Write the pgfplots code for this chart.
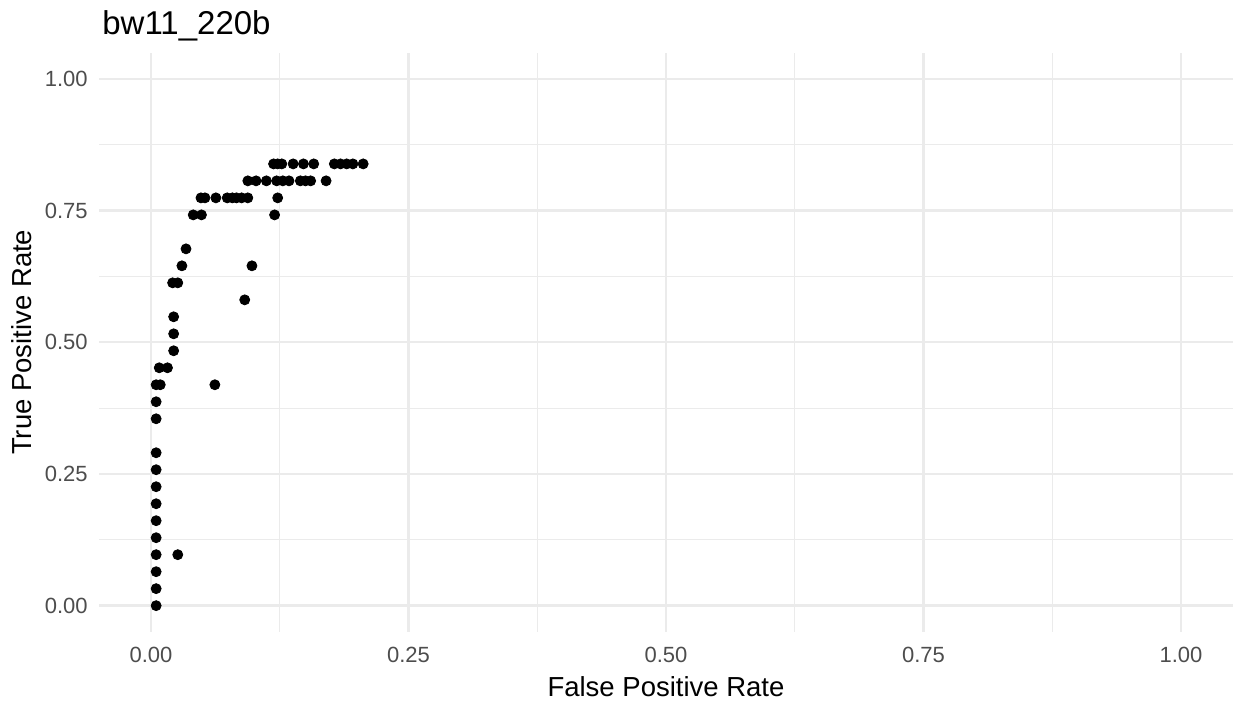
\documentclass[border=0pt]{standalone}
\usepackage{fontspec}
\setmainfont{Liberation Sans}
\usepackage{pgfplots}
\pgfplotsset{compat=1.18}
\definecolor{gridc}{HTML}{EBEBEB}
\definecolor{tickc}{HTML}{4D4D4D}
\begin{document}
\begin{tikzpicture}
\begin{axis}[
  at={(0,0)}, anchor=south west,
  scale only axis, width=566.5pt, height=289.7pt,
  xmin=-0.05, xmax=1.05, ymin=-0.05, ymax=1.05,
  axis line style={draw=none},
  tick style={draw=none},
  xtick={0,0.25,0.5,0.75,1},
  ytick={0,0.25,0.5,0.75,1},
  xticklabels={0.00,0.25,0.50,0.75,1.00},
  yticklabels={0.00,0.25,0.50,0.75,1.00},
  minor xtick={0.125,0.375,0.625,0.875},
  minor ytick={0.125,0.375,0.625,0.875},
  grid=both,
  major grid style={draw=gridc, line width=1.2pt},
  minor grid style={draw=gridc, line width=0.6pt},
  xticklabel style={font=\fontsize{11}{13}\selectfont, text=tickc, anchor=north, inner sep=0pt, yshift=-7.5pt},
  yticklabel style={font=\fontsize{11}{13}\selectfont, text=tickc, anchor=east, inner sep=0pt, xshift=-5.75pt},
  xlabel={False Positive Rate},
  ylabel={True Positive Rate},
  xlabel style={font=\fontsize{13.75}{16}\selectfont, at={(axis description cs:0.5,0)}, anchor=base, inner sep=0pt, yshift=-32pt},
  ylabel style={font=\fontsize{13.75}{16}\selectfont, at={(axis description cs:0,0.5)}, anchor=base, inner sep=0pt, yshift=33.75pt},
  title={bw11\_220b},
  every axis title shift=0pt,
  title style={font=\fontsize{16.5}{19}\selectfont, at={(axis description cs:0.0022,1.0306)}, anchor=base west, inner sep=0pt, yshift=0pt},
  clip=false,
]
\addplot[only marks, mark=*, mark size=2.5pt, mark options={fill=black, draw=black}] coordinates {
(0.005,0) (0.005,0.0323) (0.005,0.0645) (0.005,0.0968) (0.026,0.0968)
(0.005,0.1290) (0.005,0.1613) (0.005,0.1935) (0.005,0.2258) (0.005,0.2581)
(0.005,0.2903) (0.005,0.3548) (0.005,0.3871) (0.005,0.4194) (0.009,0.4194)
(0.062,0.4194) (0.008,0.4516) (0.016,0.4516) (0.022,0.4839) (0.022,0.5161)
(0.022,0.5484) (0.091,0.5806) (0.021,0.6129) (0.026,0.6129) (0.030,0.6452)
(0.098,0.6452) (0.034,0.6774) (0.041,0.7419) (0.049,0.7419) (0.120,0.7419)
(0.0485,0.7742) (0.0524,0.7742) (0.063,0.7742) (0.074,0.7742) (0.079,0.7742)
(0.083,0.7742) (0.088,0.7742) (0.094,0.7742) (0.123,0.7742)
(0.094,0.8065) (0.102,0.8065) (0.112,0.8065) (0.122,0.8065) (0.128,0.8065)
(0.134,0.8065) (0.145,0.8065) (0.150,0.8065) (0.155,0.8065) (0.170,0.8065)
(0.119,0.8387) (0.123,0.8387) (0.127,0.8387) (0.138,0.8387) (0.148,0.8387)
(0.158,0.8387) (0.178,0.8387) (0.184,0.8387) (0.190,0.8387) (0.196,0.8387)
(0.206,0.8387)
};
\end{axis}
\pgfresetboundingbox
\useasboundingbox (-49.75pt,-37pt) rectangle (567.75pt,316pt);
\end{tikzpicture}
\end{document}
